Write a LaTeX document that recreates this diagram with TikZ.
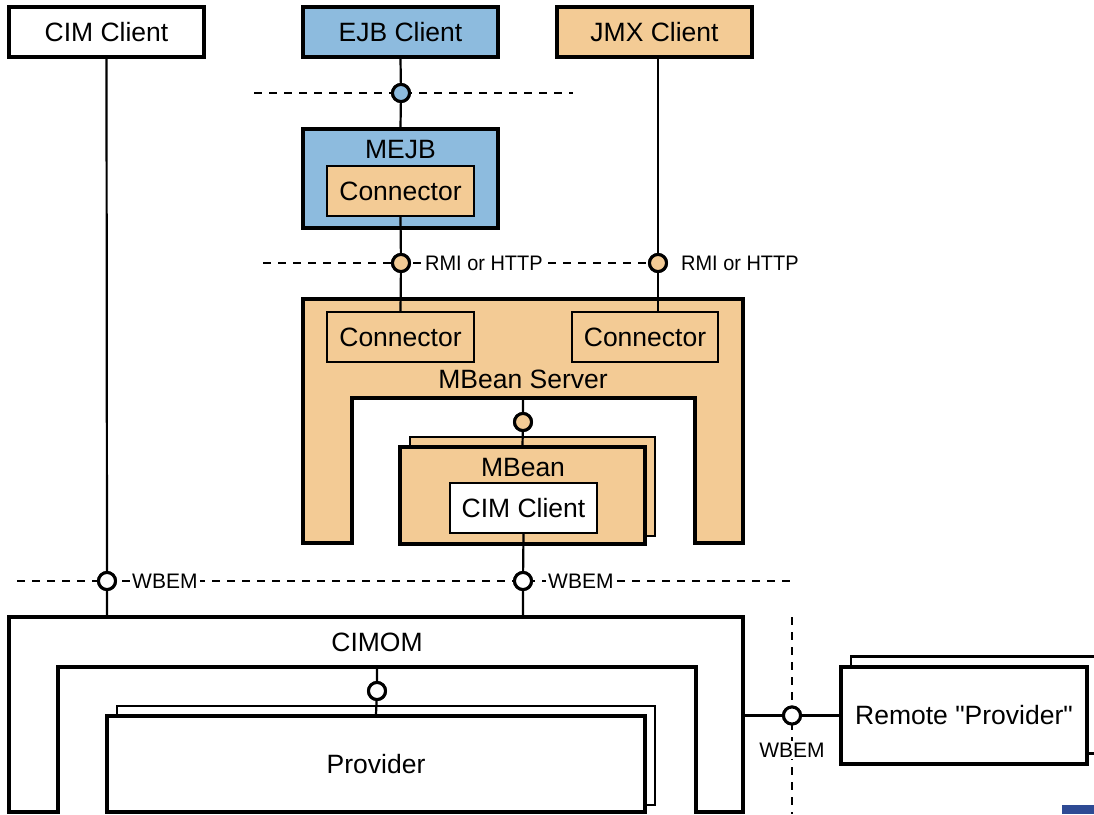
\documentclass[tikz,border=0pt]{standalone}
\usepackage{fontspec}
\setmainfont{Liberation Sans}[Ligatures=TeXOff]
\usepackage{graphicx}
\definecolor{beige}{HTML}{F3CB95}
\definecolor{sky}{HTML}{8DBBDE}
\definecolor{navy}{HTML}{2E4A94}

\begin{document}
\begin{tikzpicture}[x=1pt,y=-1pt,
  big/.style={font=\fontsize{26.5}{30}\selectfont},
  small/.style={font=\fontsize{21}{24}\selectfont},
  box/.style={draw, line width=3.3pt, inner sep=0pt, big},
  inbox/.style={draw, line width=2.2pt, inner sep=0pt, big},
  backbox/.style={draw, line width=2.2pt, inner sep=0pt},
  lolli/.style={circle, draw, line width=3pt, minimum size=17pt, inner sep=0pt},
  wire/.style={line width=2.2pt},
  iface/.style={line width=2.2pt, dash pattern=on 8pt off 7pt},
  tag/.style={small, fill=white, inner sep=2pt},
]
\useasboundingbox (0,0) rectangle (1094,814);

% interface boundaries
\draw[iface] (254,93) -- (573,93);
\draw[iface] (263,263) -- (658,263);
\draw[iface] (17,581) -- (792,581);
\draw[iface] (792,617) -- (792,814);

% clients
\node[box, fill=white, minimum width=195pt, minimum height=50pt] (cimc) at (106.5,32) {CIM Client};
\node[box, fill=sky, minimum width=195pt, minimum height=50pt] (ejbc) at (400.5,32) {EJB Client};
\node[box, fill=beige, minimum width=195pt, minimum height=50pt] (jmxc) at (654.5,32) {JMX Client};

% MEJB with its connector
\node[box, fill=sky, minimum width=195pt, minimum height=99pt] (mejb) at (400.5,178.5) {};
\node[big] (mejbl) at (400.5,150) {MEJB};
\node[inbox, fill=beige, minimum width=147pt, minimum height=50pt] (conn1) at (400.5,191) {Connector};

% MBean server frame
\draw[line width=3.3pt, fill=beige] (303,299) -- (743,299) -- (743,543) -- (695,543)
  -- (695,398) -- (352,398) -- (352,543) -- (303,543) -- cycle;
\coordinate (msin) at (523,398);
\node[inbox, fill=beige, minimum width=147pt, minimum height=50pt] (mconn1) at (400.5,337) {Connector};
\node[inbox, fill=beige, minimum width=146pt, minimum height=50pt] (mconn2) at (645,337) {Connector};
\node[big] (msl) at (523,379) {MBean Server};

% MBean stack
\node[backbox, fill=beige, minimum width=245pt, minimum height=99pt] (mbeanb) at (532.5,486.5) {};
\node[box, fill=beige, minimum width=245pt, minimum height=97pt] (mbean) at (522.5,495.5) {};
\node[big] (mbeanl) at (523,468) {MBean};
\node[inbox, fill=white, minimum width=147pt, minimum height=50pt] (mcim) at (523.5,508) {CIM Client};

% CIMOM frame
\draw[line width=3.3pt, fill=white] (9,617) -- (743,617) -- (743,812) -- (696,812)
  -- (696,667) -- (58,667) -- (58,812) -- (9,812) -- cycle;
\coordinate (cimtop1) at (107,617);
\coordinate (cimtop2) at (523,617);
\coordinate (cimin) at (377,667);
\coordinate (cimside) at (743,715.5);
\node[big] (cimoml) at (377,642) {CIMOM};

% providers
\node[backbox, fill=white, minimum width=538pt, minimum height=99pt] (provb) at (386,755.5) {};
\node[box, fill=white, minimum width=538pt, minimum height=96pt] (prov) at (376,764) {Provider};
\node[backbox, fill=white, minimum width=246pt, minimum height=97pt] (remb) at (974,705) {};
\node[box, fill=white, minimum width=246pt, minimum height=97pt] (rem) at (964,715.5) {Remote "Provider"};

% lollipop interfaces
\node[lolli, fill=sky] (l1) at (401,93) {};
\node[lolli, fill=beige] (l2) at (401,263) {};
\node[lolli, fill=beige] (l3) at (658,263) {};
\node[lolli, fill=beige] (l4) at (523,422) {};
\node[lolli, fill=white] (l5) at (523,581) {};
\node[lolli, fill=white] (l6) at (107,581) {};
\node[lolli, fill=white] (l7) at (377,691) {};
\node[lolli, fill=white] (l8) at (792,715.5) {};

% wiring
\draw[wire] (ejbc.south) -- (l1) -- (mejb.north);
\draw[wire] (conn1.south) -- (l2) -- (mconn1.north);
\draw[wire] (l3 |- jmxc.south) -- (l3) -- (l3 |- mconn2.north);
\draw[wire] (msin) -- (l4) -- (mbean.north);
\draw[wire] (mcim.south) -- (l5) -- (cimtop2);
\draw[wire] (cimc.south) -- (l6) -- (cimtop1);
\draw[wire] (cimin) -- (l7) -- (prov.north);
\draw[wire] (cimside) -- (l8) -- (rem.west);

% redraw circles over wires
\foreach \n/\c in {l1/sky,l2/beige,l3/beige,l4/beige,l5/white,l6/white,l7/white,l8/white}
  \draw[line width=3pt, fill=\c] (\n) circle (8.5pt);

% protocol labels
\node[tag, anchor=west] (rmi1) at (423,263) {\scalebox{0.95}[1]{RMI or HTTP}};
\node[tag, anchor=west] (rmi2) at (679,263) {\scalebox{0.95}[1]{RMI or HTTP}};
\node[tag, anchor=west] (wb1) at (130,581) {WBEM};
\node[tag, anchor=west] (wb2) at (546,581) {WBEM};
\node[tag] (wb3) at (792,750) {WBEM};

% corner mark
\fill[navy] (1062,805) rectangle (1094,814);
\end{tikzpicture}
\end{document}
